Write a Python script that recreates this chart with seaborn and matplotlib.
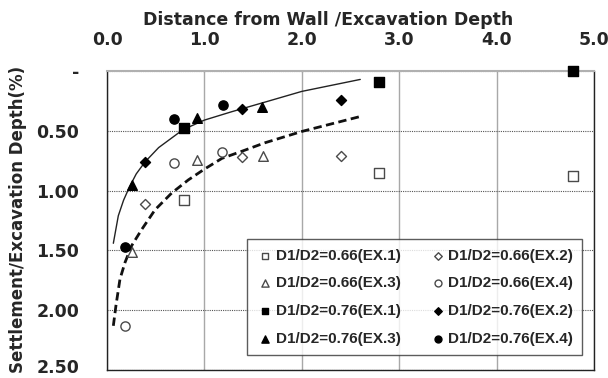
import matplotlib
matplotlib.use("Agg")
import matplotlib.pyplot as plt
import matplotlib.transforms as mtransforms
import seaborn as sns
import pandas as pd

# Measured points: (distance from wall / excavation depth, settlement / excavation depth %)
ex1_066_x = [0.79, 2.79, 4.78]
ex1_066_y = [1.08, 0.85, 0.88]
ex2_066_x = [0.39, 1.39, 2.40]
ex2_066_y = [1.11, 0.72, 0.71]
ex3_066_x = [0.26, 0.92, 1.60]
ex3_066_y = [1.51, 0.74, 0.71]
ex4_066_x = [0.18, 0.69, 1.18]
ex4_066_y = [2.13, 0.77, 0.68]

ex1_076_x = [0.79, 2.79, 4.78]
ex1_076_y = [0.48, 0.09, 0.00]
ex2_076_x = [0.39, 1.39, 2.40]
ex2_076_y = [0.76, 0.32, 0.24]
ex3_076_x = [0.26, 0.92, 1.59]
ex3_076_y = [0.95, 0.39, 0.30]
ex4_076_x = [0.18, 0.69, 1.19]
ex4_076_y = [1.47, 0.40, 0.28]

# Trend curves
trend_076_x = [0.065, 0.116, 0.17, 0.23, 0.30, 0.39, 0.53, 0.78, 1.0, 1.28, 1.62, 2.0, 2.6]
trend_076_y = [1.44, 1.21, 1.08, 0.97, 0.86, 0.76, 0.64, 0.49, 0.41, 0.34, 0.26, 0.17, 0.07]
trend_066_x = [0.065, 0.092, 0.133, 0.185, 0.253, 0.356, 0.493, 0.664, 0.835, 1.0, 1.18,
               1.42, 1.62, 2.0, 2.6]
trend_066_y = [2.13, 1.96, 1.74, 1.60, 1.46, 1.325, 1.16, 1.02, 0.91, 0.82, 0.73, 0.66,
               0.60, 0.505, 0.38]

x_ticks = [0.0, 1.0, 2.0, 3.0, 4.0, 5.0]
x_tick_labels = ["0.0", "1.0", "2.0", "3.0", "4.0", "5.0"]
y_ticks = [0.0, 0.5, 1.0, 1.5, 2.0, 2.5]
y_tick_labels = ["-", "0.50", "1.00", "1.50", "2.00", "2.50"]

sns.set_theme(style="white")
plt.rcParams["font.family"] = ["DejaVu Sans"]

fig = plt.figure(figsize=(6.08, 3.78), dpi=100)
ax = fig.add_axes([0.176, 0.021, 0.801, 0.791])

open_c = "#4a4a4a"
series = [
    ("D1/D2=0.66(EX.1)", ex1_066_x, ex1_066_y, "s", "white", open_c, 42),
    ("D1/D2=0.66(EX.3)", ex3_066_x, ex3_066_y, "^", "white", open_c, 48),
    ("D1/D2=0.76(EX.1)", ex1_076_x, ex1_076_y, "s", "black", "black", 42),
    ("D1/D2=0.76(EX.3)", ex3_076_x, ex3_076_y, "^", "black", "black", 48),
    ("D1/D2=0.66(EX.2)", ex2_066_x, ex2_066_y, "D", "white", open_c, 26),
    ("D1/D2=0.66(EX.4)", ex4_066_x, ex4_066_y, "o", "white", open_c, 44),
    ("D1/D2=0.76(EX.2)", ex2_076_x, ex2_076_y, "D", "black", "black", 26),
    ("D1/D2=0.76(EX.4)", ex4_076_x, ex4_076_y, "o", "black", "black", 44),
]

sns.lineplot(x=trend_076_x, y=trend_076_y, ax=ax, color="#222222", lw=1.0, sort=False,
             estimator=None)
sns.lineplot(x=trend_066_x, y=trend_066_y, ax=ax, color="#111111", lw=2.0, sort=False,
             estimator=None, linestyle=(0, (3, 1.6)))

for label, xs, ys, mk, fc, ec, sz in series:
    df = pd.DataFrame({"x": xs, "y": ys})
    sns.scatterplot(data=df, x="x", y="y", ax=ax, marker=mk, s=sz, facecolor=fc,
                    edgecolor=ec, linewidth=1.0, label=label, zorder=5, clip_on=False)

ax.set_xlim(0, 5.0)
ax.set_ylim(2.5, 0.0)
ax.set_xticks(x_ticks)
ax.set_xticklabels(x_tick_labels)
ax.set_yticks(y_ticks)
ax.set_yticklabels(y_tick_labels)
ax.xaxis.tick_top()
ax.tick_params(axis="both", length=0, labelsize=12.5)
ax.tick_params(axis="x", pad=16)
ax.tick_params(axis="y", pad=20)
for t in ax.get_xticklabels() + ax.get_yticklabels():
    t.set_fontweight("bold")

# keep the lowest y label inside the canvas
last = ax.get_yticklabels()[-1]
last.set_transform(last.get_transform() +
                   mtransforms.ScaledTranslation(0, 3 / 72, fig.dpi_scale_trans))

ax.set_xlabel("")
ax.set_ylabel("")

ax.xaxis.grid(True, color="#a8a8a8", lw=1.0, ls="-")
ax.yaxis.grid(True, color="#555555", lw=0.8, ls=(0, (1, 1)))
ax.set_axisbelow(True)

for side in ["left", "bottom", "right"]:
    ax.spines[side].set_color("#222222")
    ax.spines[side].set_linewidth(1.0)
ax.spines["top"].set_color("#b0b0b0")
ax.spines["top"].set_linewidth(1.5)

fig.text(0.54, 0.947, "Distance from Wall /Excavation Depth", ha="center", va="center",
         fontsize=12.5, fontweight="bold")
fig.text(0.03, 0.42, "Settlement/Excavation Depth(%)", ha="center", va="center",
         rotation=90, fontsize=12, fontweight="bold")

leg = ax.legend(ncol=2, loc="upper left", bbox_to_anchor=(0.287, 0.437, 0.689, 0.0),
                mode="expand", frameon=True, fancybox=False, edgecolor="#333333",
                prop={"family": "Liberation Sans", "weight": "bold", "size": 11},
                handletextpad=0.1, columnspacing=0.5, labelspacing=0.9, borderpad=0.6,
                handlelength=1.2, markerscale=0.75, borderaxespad=0.0)
leg.get_frame().set_linewidth(1.0)

fig.savefig("out.png", dpi=100)
